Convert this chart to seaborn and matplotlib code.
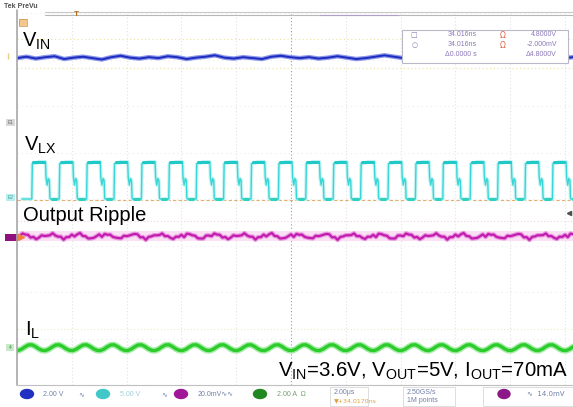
import numpy as np
import matplotlib
matplotlib.use("Agg")
import matplotlib.pyplot as plt
import seaborn as sns
from matplotlib.patches import Rectangle, Ellipse

# ---- scope data (divisions: 2.00us/div horizontal) ----
period = 0.5          # switching period in div (1 MHz)
n_periods = 21

# V_LX: one switching period, relative to the rising edge
lx_t = [0.00, 0.01, 0.10, 0.12, 0.25, 0.26, 0.28, 0.30, 0.32, 0.33, 0.34, 0.49]
lx_v = [0.00, 0.76, 0.78, 0.80, 0.80, 0.46, 0.30, 0.44, 0.40, 0.02, 0.00, 0.00]

# V_IN: flat with a little noise
vin_level = 3.03
vin_noise = [0.00, 0.03, -0.01, 0.02, 0.04, -0.02, 0.01, 0.03, 0.00, -0.03,
             0.02, 0.05, 0.01, -0.01, 0.02, 0.00, 0.04, 0.02, -0.02, 0.01,
             0.03, 0.06, 0.01, -0.01, 0.02, 0.00, -0.02, 0.03, 0.05, 0.02,
             0.00, 0.02, -0.01, 0.01, 0.04, 0.01, -0.02, 0.00, 0.03, 0.06,
             0.03, 0.00, 0.02, -0.01, 0.01, 0.04, 0.00, -0.02, -0.03, 0.01,
             0.02, 0.00, 0.03, 0.01, -0.01, 0.02, 0.04, 0.01, 0.00, 0.02]

# output ripple: one period + jitter
rip_level = -0.80
rip_shape = [0.00, 0.04, 0.05, 0.02, -0.01, -0.03, -0.06, -0.03, 0.00, 0.02]
rip_jitter = [0.00, 0.02, -0.015, 0.01, -0.02, 0.015, -0.005]

# inductor current: one period
il_level = -3.20
il_shape = [-0.06, -0.03, 0.02, 0.06, 0.065, 0.03, -0.02, -0.055]

W, H = 573, 407
x_max = 556 / 54.8

sns.set_style("white")
plt.rcParams["font.family"] = ["Liberation Sans", "DejaVu Sans"]

fig = plt.figure(figsize=(W / 100, H / 100), dpi=100)
ax = fig.add_axes([17 / W, 1 - 385 / H, 556 / W, 372 / H])
ax.set_xlim(0, x_max)
ax.set_ylim(-4, 4)
ax.axis("off")

# graticule
for gx in range(0, 11):
    c = "#9a9a9a" if gx == 5 else "#e2e2e2"
    ax.axvline(gx, color=c, lw=0.8, ls=(0, (1, 2)), zorder=0)
for gy in range(-4, 5):
    ax.axhline(gy, color="#ececec", lw=0.8, ls=(0, (1, 3)), zorder=0)
# cursors
for cy in (3.44, 2.82):
    ax.axhline(cy, color="#ece6a8", lw=0.9, ls=(0, (1, 2)), zorder=1)
ax.axhline(-0.02, color="#e0b070", lw=0.8, ls=(0, (3, 2)), zorder=1)
ax.axhline(-0.48, color="#f0d0e8", lw=0.8, ls=(0, (1, 2)), zorder=1)
ax.axhline(-2.80, color="#e6f0c0", lw=0.8, ls=(0, (1, 2)), zorder=1)

# V_IN
t_vin = np.linspace(0, x_max, len(vin_noise))
v_vin = vin_level + np.array(vin_noise)
sns.lineplot(x=t_vin, y=v_vin, ax=ax, color="#8c96e8", lw=3.2, estimator=None, sort=False, zorder=3)
sns.lineplot(x=t_vin, y=v_vin, ax=ax, color="#1c2cc0", lw=1.4, estimator=None, sort=False, zorder=4)

# V_LX
t_lx = np.concatenate([[0.09, 0.26]] +
                      [np.array(lx_t) + 0.27 + k * period for k in range(n_periods)])
v_lx = np.concatenate([[0.0, 0.0]] + [np.array(lx_v) for k in range(n_periods)])
sns.lineplot(x=t_lx, y=v_lx, ax=ax, color="#c8f4f4", lw=2.6, estimator=None, sort=False, zorder=3)
sns.lineplot(x=t_lx, y=v_lx, ax=ax, color="#3ad6d6", lw=1.0, estimator=None, sort=False, zorder=4)
# bright persistence on the flat top and the low level
for k in range(n_periods):
    t0 = 0.27 + k * period
    ax.plot([t0 + 0.03, t0 + 0.22], [0.80, 0.80], color="#20c8c8", lw=2.2, zorder=5, solid_capstyle="round")
    ax.plot([t0 + 0.37, t0 + 0.45], [0.01, 0.01], color="#30d0c0", lw=2.2, zorder=5, solid_capstyle="round")

# output ripple
n_rip = len(rip_shape) * n_periods
t_rip = np.arange(n_rip) * period / len(rip_shape) + 0.05
v_rip = rip_level + np.tile(rip_shape, n_periods) + np.resize(rip_jitter, n_rip)
ax.fill_between([0, x_max], rip_level - 0.11, rip_level + 0.11, color="#fae0f4", lw=0, zorder=2)
sns.lineplot(x=t_rip, y=v_rip, ax=ax, color="#e890dc", lw=3.2, estimator=None, sort=False, zorder=3)
sns.lineplot(x=t_rip, y=v_rip, ax=ax, color="#c01aae", lw=1.5, estimator=None, sort=False, zorder=4)

# inductor current
n_il = len(il_shape) * n_periods
t_il = np.arange(n_il) * period / len(il_shape) + 0.02
v_il = il_level + np.tile(il_shape, n_periods)
sns.lineplot(x=t_il, y=v_il, ax=ax, color="#a8eca8", lw=4.5, estimator=None, sort=False, zorder=3)
sns.lineplot(x=t_il, y=v_il, ax=ax, color="#2ccc2c", lw=2.4, estimator=None, sort=False, zorder=4)

# ---- screen furniture in pixel coords ----
ov = fig.add_axes([0, 0, 1, 1], facecolor="none")
ov.set_xlim(0, W)
ov.set_ylim(H, 0)
ov.axis("off")

ov.plot([17, 17], [10, 385], color="#a8a8a8", lw=1.2)
ov.plot([45, W], [12, 12], color="#c8c8c8", lw=0.8)
ov.plot([45, W], [15, 15], color="#b8b8b8", lw=0.8)
ov.plot([320, 398], [15, 15], color="#b0a0c8", lw=0.8)
ov.plot([17, W], [385, 385], color="#c0c0c0", lw=0.8)
ov.text(4, 7, "Tek PreVu", fontsize=5, color="#505050", fontweight="bold", va="center")
ov.text(76, 14, "T", fontsize=6, color="#b07020", fontweight="bold", ha="center", va="center")
ov.add_patch(Rectangle((19, 19), 8, 7, color="#f3c890", lw=0))
ov.add_patch(Rectangle((19, 19), 8, 7, fill=False, ec="#d09040", lw=0.5))

# channel markers
ov.add_patch(Rectangle((6, 119), 9, 7, color="#d8d8d8", lw=0))
ov.text(10.5, 122.5, "E1", fontsize=3.5, color="#707070", ha="center", va="center")
ov.add_patch(Rectangle((6, 194), 9, 7, color="#b8eeee", lw=0))
ov.text(10.5, 197.5, "E2", fontsize=3.5, color="#40a0a0", ha="center", va="center")
ov.add_patch(Rectangle((5, 234), 13, 7, color="#901080", lw=0))
ov.plot([21], [237], marker=">", color="#f08040", ms=4)
ov.add_patch(Rectangle((6, 344), 8, 7, color="#c8e8c8", lw=0))
ov.text(10, 347.5, "4", fontsize=3.5, color="#309030", ha="center", va="center")
ov.plot([569], [213], marker="<", color="#505050", ms=3)
ov.plot([8], [56], marker="|", color="#e0d080", ms=4)

# measurement box
ov.add_patch(Rectangle((402, 30), 166, 33, facecolor="white", edgecolor="#b8b8c8", lw=0.8, zorder=5))
mcol = "#8c78b8"
ov.text(414, 35, "□", fontsize=5, color=mcol, ha="center", va="center", zorder=6, family=["DejaVu Sans"])
ov.text(415, 45, "○", fontsize=5, color=mcol, ha="center", va="center", zorder=6, family=["DejaVu Sans"])
for yy, s in ((35, "34.016ns"), (45, "34.016ns"), (55, "Δ0.0000 s")):
    ov.text(477, yy, s, fontsize=5, color=mcol, ha="right", va="center", zorder=6)
for yy in (35, 45):
    ov.text(503, yy, "Ω", fontsize=5.5, color="#e06040", ha="center", va="center", zorder=6, family=["DejaVu Sans"])
for yy, s in ((35, "4.8000V"), (45, "-2.000mV"), (55, "Δ4.8000V")):
    ov.text(557, yy, s, fontsize=5, color=mcol, ha="right", va="center", zorder=6)

# status bar
scol = "#7080a8"
ov.add_patch(Ellipse((27, 394), 13, 9, color="#2030c0"))
ov.text(43, 394, "2.00 V", fontsize=5, color=scol, va="center")
ov.text(78, 394, "∿", fontsize=5, color=scol, va="center", family=["DejaVu Sans"])
ov.add_patch(Ellipse((103, 394), 13, 9, color="#40c8c8"))
ov.text(120, 394, "5.00 V", fontsize=5, color="#a0d0d8", va="center")
ov.text(161, 394, "∿", fontsize=5, color=scol, va="center", family=["DejaVu Sans"])
ov.add_patch(Ellipse((181, 394), 13, 9, color="#a01898"))
ov.text(198, 394, "20.0mV∿∿", fontsize=5, color=scol, va="center", family=["Liberation Sans", "DejaVu Sans"])
ov.add_patch(Ellipse((260, 394), 13, 9, color="#208820"))
ov.text(277, 394, "2.00 A  Ω", fontsize=5, color="#70a070", va="center", family=["Liberation Sans", "DejaVu Sans"])
ov.add_patch(Rectangle((330, 387), 38, 19, fill=False, ec="#d8d8d8", lw=0.6))
ov.text(334, 392, "2.00μs", fontsize=5, color=scol, va="center")
ov.text(334, 401, "▼+34.0170ns", fontsize=4.5, color="#e0a040", va="center", family=["DejaVu Sans"])
ov.add_patch(Rectangle((403, 387), 52, 19, fill=False, ec="#d8d8d8", lw=0.6))
ov.text(407, 392, "2.50GS/s", fontsize=5, color=scol, va="center")
ov.text(407, 401, "1M points", fontsize=5, color=scol, va="center")
ov.add_patch(Rectangle((483, 387), 95, 19, fill=False, ec="#d8d8d8", lw=0.6))
ov.add_patch(Ellipse((504, 394), 12, 9, color="#8c1888"))
ov.text(527, 394, "∿  14.0mV", fontsize=5, color=scol, va="center", family=["DejaVu Sans"])

# channel labels
lab = dict(fontsize=14.5, color="black", va="baseline")
ov.text(22, 47, r"V$_\mathregular{IN}$", **lab)
ov.text(24, 151, r"V$_\mathregular{LX}$", **lab)
ov.text(23, 221, "Output Ripple", **lab)
ov.text(25, 336, r"I$_\mathregular{L}$", **lab)
ov.text(568, 377, r"V$_\mathregular{IN}$=3.6V, V$_\mathregular{OUT}$=5V, I$_\mathregular{OUT}$=70mA",
        ha="right", fontsize=14.7, color="black", va="baseline")

fig.savefig("out.png", dpi=100, facecolor="white")
